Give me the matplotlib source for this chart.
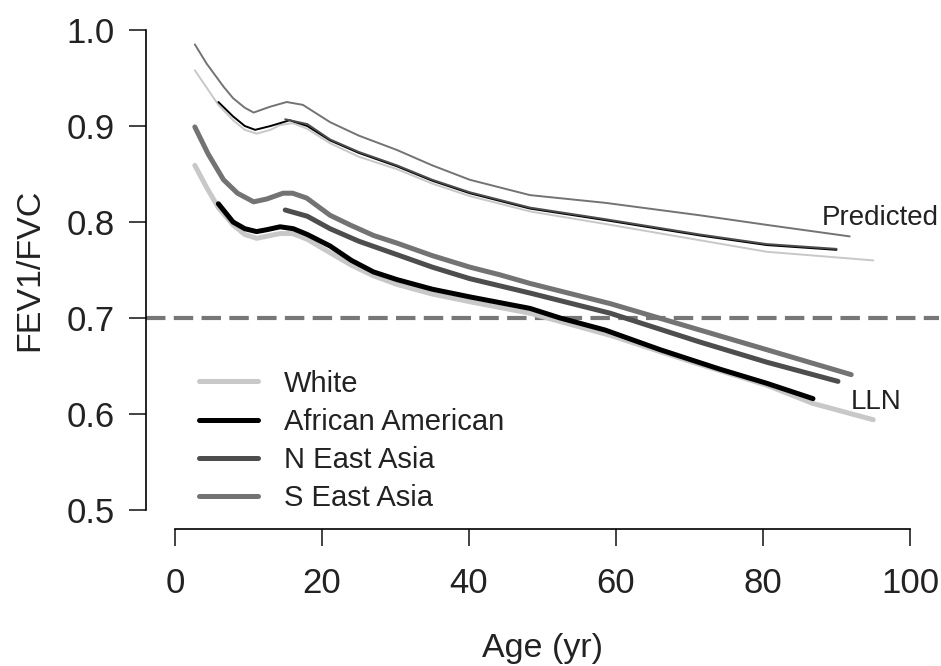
import matplotlib
matplotlib.use('Agg')
import matplotlib.pyplot as plt

plt.rcParams['font.family'] = ['Liberation Sans', 'DejaVu Sans']
plt.rcParams['lines.scale_dashes'] = False

# predicted (mean) curves
white_pred_age = [2.7, 4.3, 5.9, 7.9, 9.5, 11.1, 13, 14.3, 16, 18, 21.1, 25, 30.2, 35, 40.1, 48.3, 58.5, 71.4, 80.5, 95]
white_pred_val = [0.958, 0.940, 0.922, 0.906, 0.896, 0.892, 0.896, 0.901, 0.903, 0.897, 0.882, 0.868, 0.855, 0.840, 0.827, 0.811, 0.798, 0.781, 0.769, 0.760]

aa_pred_age = [5.9, 7.9, 9.5, 10.9, 13, 15.6, 18, 21.1, 25, 30.2, 35, 40.1, 48.3, 58.5, 71.4, 80.5, 90]
aa_pred_val = [0.925, 0.910, 0.900, 0.896, 0.900, 0.906, 0.900, 0.885, 0.872, 0.858, 0.843, 0.830, 0.814, 0.802, 0.786, 0.776, 0.771]

nea_pred_age = [15, 18, 21.1, 25, 30.2, 35, 40.1, 48.3, 58.5, 71.4, 80.5, 90]
nea_pred_val = [0.907, 0.902, 0.886, 0.873, 0.859, 0.844, 0.831, 0.815, 0.803, 0.787, 0.777, 0.772]

sea_pred_age = [2.7, 4.3, 6.6, 7.9, 9.5, 10.7, 12.9, 15.2, 17.4, 21.1, 25, 30.2, 35, 40.1, 48.3, 58.5, 71.4, 80.5, 91.8]
sea_pred_val = [0.985, 0.965, 0.941, 0.929, 0.919, 0.914, 0.920, 0.925, 0.922, 0.904, 0.890, 0.875, 0.859, 0.844, 0.828, 0.820, 0.807, 0.797, 0.785]

# lower limit of normal curves
white_lln_age = [2.7, 4.3, 5.9, 7.9, 9.5, 11.1, 13, 14.3, 16, 18, 21.1, 24, 27, 30.2, 35, 40.1, 48.3, 59.2, 70, 80.5, 86.8, 95]
white_lln_val = [0.859, 0.836, 0.815, 0.797, 0.787, 0.783, 0.786, 0.788, 0.788, 0.782, 0.768, 0.755, 0.744, 0.735, 0.725, 0.717, 0.705, 0.682, 0.655, 0.630, 0.611, 0.594]

aa_lln_age = [5.9, 7.9, 9.5, 11.1, 12.5, 14.3, 16.1, 18, 21.1, 24, 27, 30.2, 35, 40.1, 44.2, 48.3, 52.4, 58.5, 66, 74, 80.5, 86.8]
aa_lln_val = [0.819, 0.800, 0.793, 0.790, 0.792, 0.795, 0.793, 0.787, 0.775, 0.760, 0.748, 0.740, 0.730, 0.722, 0.716, 0.710, 0.700, 0.6875, 0.667, 0.647, 0.632, 0.616]

nea_lln_age = [15, 18, 21.1, 25, 30.2, 35, 40.1, 48.3, 59.2, 71.4, 80.5, 90.2]
nea_lln_val = [0.8125, 0.806, 0.793, 0.780, 0.766, 0.753, 0.741, 0.726, 0.705, 0.675, 0.654, 0.634]

sea_lln_age = [2.7, 4.5, 6.6, 8.5, 10.7, 12.5, 14.7, 16, 17.9, 21.1, 23.8, 27, 30.2, 35, 40.1, 44.2, 48.3, 59.2, 71.4, 80.5, 92]
sea_lln_val = [0.899, 0.871, 0.844, 0.830, 0.821, 0.824, 0.830, 0.830, 0.825, 0.807, 0.797, 0.786, 0.778, 0.765, 0.753, 0.745, 0.736, 0.715, 0.6875, 0.667, 0.641]

groups = ['White', 'African American', 'N East Asia', 'S East Asia']
colors = ['#c8c8c8', '#000000', '#4d4d4d', '#737373']
pred_ages = [white_pred_age, aa_pred_age, nea_pred_age, sea_pred_age]
pred_vals = [white_pred_val, aa_pred_val, nea_pred_val, sea_pred_val]
lln_ages = [white_lln_age, aa_lln_age, nea_lln_age, sea_lln_age]
lln_vals = [white_lln_val, aa_lln_val, nea_lln_val, sea_lln_val]

W, H = 941, 666
fig = plt.figure(figsize=(W / 100, H / 100), dpi=100)
# plot region in pixels: x -4..104 -> 145.6..939.4, y 1.02..0.48 -> 10.8..529.2
ax = fig.add_axes([145.6 / W, 1 - 529.2 / H, (939.4 - 145.6) / W, (529.2 - 10.8) / H])
ax.set_xlim(-4, 104)
ax.set_ylim(0.48, 1.02)

ax.axhline(0.7, color='#777777', lw=3, dashes=(14, 6), zorder=1)

for name, c, a, v in zip(groups, colors, pred_ages, pred_vals):
    ax.plot(a, v, color=c, lw=1.4, solid_capstyle='round', zorder=2)
for name, c, a, v in zip(groups, colors, lln_ages, lln_vals):
    ax.plot(a, v, color=c, lw=3.6, solid_capstyle='round', label=name, zorder=3)

ax.text(88.0, 0.804, 'Predicted', fontsize=20, color='#222222', ha='left', va='center')
ax.text(92.0, 0.612, 'LLN', fontsize=20, color='#222222', ha='left', va='center')

ax.spines['top'].set_visible(False)
ax.spines['right'].set_visible(False)
ax.spines['left'].set_bounds(0.5, 1.0)
ax.spines['bottom'].set_bounds(0, 100)
ax.spines['left'].set_linewidth(1.2)
ax.spines['bottom'].set_linewidth(1.2)

ax.set_xticks([0, 20, 40, 60, 80, 100])
ax.set_yticks([0.5, 0.6, 0.7, 0.8, 0.9, 1.0])
ax.set_yticklabels(['0.5', '0.6', '0.7', '0.8', '0.9', '1.0'])
ax.tick_params(axis='both', length=12, width=1.2, labelsize=25, colors='#222222')
ax.tick_params(axis='x', pad=15)
ax.tick_params(axis='y', pad=10)

ax.set_xlabel('Age (yr)', fontsize=24.5, color='#222222')
ax.set_ylabel('FEV1/FVC', fontsize=24.5, color='#222222')
ax.xaxis.set_label_coords(0.5, -0.2)
ax.yaxis.set_label_coords(-0.127, 0.5)

fig.legend(loc='upper left', bbox_to_anchor=(199 / W, 1 - 369.5 / H), frameon=False,
           fontsize=21, handlelength=2.02, handletextpad=0.89, labelspacing=0.35,
           borderpad=0, borderaxespad=0, labelcolor='#222222')

fig.savefig('out.png', dpi=100)
